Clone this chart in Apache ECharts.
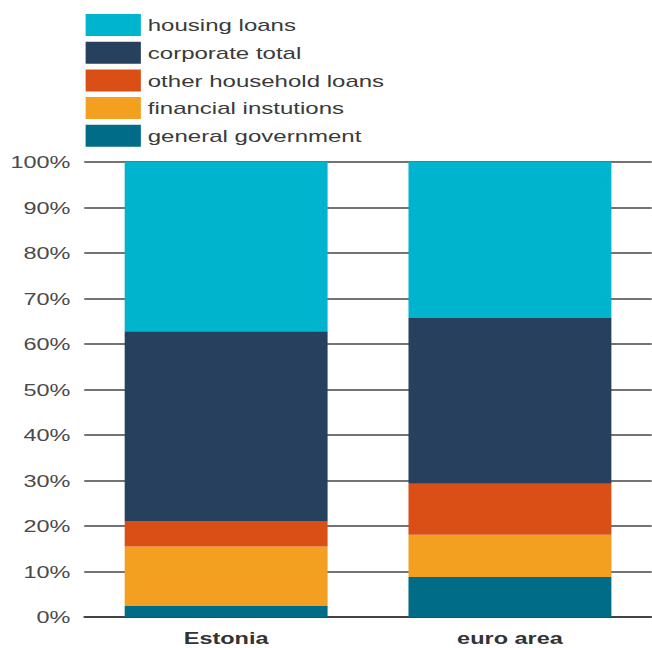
<!DOCTYPE html>
<html>
<head>
<meta charset="utf-8">
<script src="https://cdn.jsdelivr.net/npm/echarts@6/dist/echarts.min.js"></script>
<style>
  html, body { margin: 0; padding: 0; background: #fff; overflow: hidden; }
  /* the source picture is stretched sideways, so draw narrow and widen it */
  #chart { width: 472px; height: 648px; transform: scaleX(1.381); transform-origin: 0 0; }
</style>
</head>
<body>
<div id="chart"></div>
<script>
// data (shares in %)
const categories = ['Estonia', 'euro area'];
const generalGovernment = [2.4, 8.8];
const financialInstitutions = [13.1, 9.3];
const otherHousehold = [5.6, 11.2];
const corporateTotal = [41.7, 36.4];
const housingLoans = [37.2, 34.3];
const yTicks = [0, 10, 20, 30, 40, 50, 60, 70, 80, 90, 100];

const FONT = 'Liberation Sans';

function mk(name, data, color) {
  return {
    name: name,
    type: 'bar',
    stack: 'all',
    data: data,
    barWidth: '71.5%',
    itemStyle: { color: color },
    emphasis: { disabled: true }
  };
}

const chart = echarts.init(document.getElementById('chart'), null, { renderer: 'svg' });
chart.setOption({
  animation: false,
  textStyle: { fontFamily: FONT },
  legend: {
    orient: 'vertical',
    left: 57,
    top: 9,
    itemWidth: 40,
    itemHeight: 22,
    itemGap: 5.7,
    icon: 'rect',
    selectedMode: false,
    data: ['housing loans', 'corporate total', 'other household loans', 'financial instutions', 'general government'],
    textStyle: { fontSize: 17.4, color: '#3a3a3a', fontFamily: FONT, padding: [2, 0, 0, 0] }
  },
  grid: { left: 61, right: 0, top: 162, bottom: 31 },
  xAxis: {
    type: 'category',
    data: categories,
    axisLine: { lineStyle: { color: '#333', width: 1.5 } },
    axisTick: { inside: true, length: 11, lineStyle: { color: '#333', width: 1.2 } },
    axisLabel: { fontSize: 17, fontWeight: 'bold', color: '#333', margin: 12 }
  },
  yAxis: {
    type: 'value',
    min: yTicks[0],
    max: yTicks[yTicks.length - 1],
    interval: 10,
    axisLine: { show: false },
    axisTick: { show: false },
    splitLine: { lineStyle: { color: '#444', width: 1.5 } },
    axisLabel: { fontSize: 17, color: '#4a4a4a', margin: 10, padding: [3, 0, 0, 0], formatter: '{value}%' }
  },
  series: [
    mk('general government', generalGovernment, '#006C87'),
    mk('financial instutions', financialInstitutions, '#F39F1F'),
    mk('other household loans', otherHousehold, '#DA4F16'),
    mk('corporate total', corporateTotal, '#27405E'),
    mk('housing loans', housingLoans, '#00B4CE')
  ]
});
</script>
</body>
</html>
